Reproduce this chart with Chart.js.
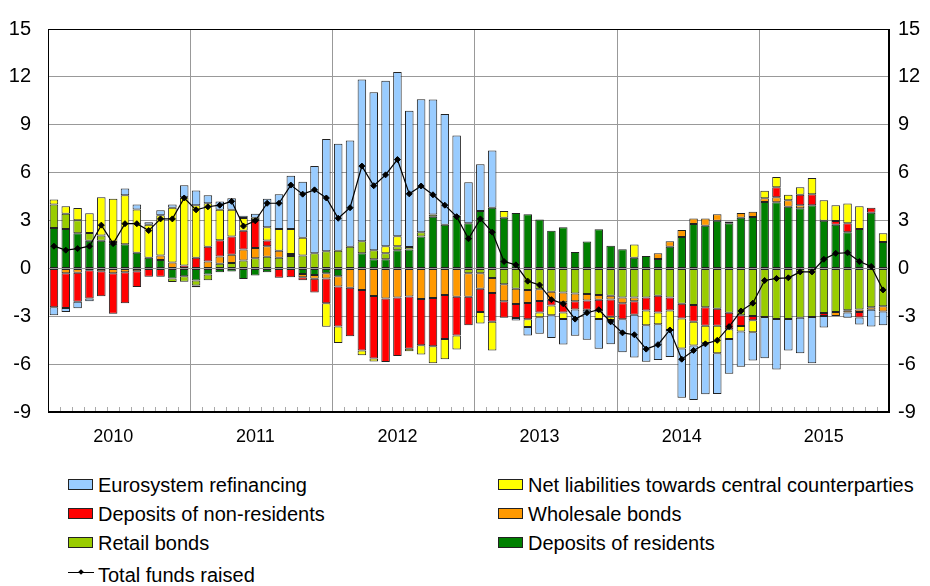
<!DOCTYPE html>
<html>
<head>
<meta charset="utf-8">
<script src="https://cdn.jsdelivr.net/npm/chart.js@4.4.0/dist/chart.umd.min.js"></script>
<style>
  body { margin: 0; background: #fff; font-family: "Liberation Sans", Arial, sans-serif; }
  #wrap { position: relative; width: 930px; height: 586px; }
  #chartBox { position: absolute; left: 0; top: 0; width: 930px; height: 460px; }
  .leg { position: absolute; font-size: 20px; color: #000; line-height: 22px; white-space: nowrap; }
  .leg .box { position: absolute; left: 0; top: 5px; width: 23px; height: 9px; border: 1px solid #222; }
  .leg .ln { position: absolute; left: 0; top: 8px; width: 26px; height: 0; border-top: 1.5px solid #000; }
  .leg .dia { position: absolute; left: 11px; top: 6px; width: 4px; height: 4px; background: #000; transform: rotate(45deg); }
  .leg .t { margin-left: 30px; }
</style>
</head>
<body>
<div id="wrap">
  <div id="chartBox"><canvas id="barChart"></canvas></div>
  <div id="legend"></div>
</div>
<script>
// Años y meses (ene 2010 - nov 2015)
const years = ['2010', '2011', '2012', '2013', '2014', '2015'];
const monthsInLastYear = 11;

// Series (variación mensual)
const depositsResidents = [
  2.53, 2.47, 2.2, 1.73, 1.73, 1.55, 1.51, 0.98, 0.67, 0.53, -0.63, -0.49,
  -0.76, -0.39, -0.24, -0.2, -0.67, -0.45, -0.24, 0, 0, -0.35, -0.41, -0.31,
  -0.49, 0, 0.94, 0.57, 0.57, 1.14, 1.18, 2.0, 3.24, 2.73, 3.29, 2.82,
  3.59, 3.8, 3.18, 3.47, 3.39, 3.06, 2.35, 2.57, 1.02, 1.69, 2.45, 1.41,
  1.2, 0.67, 0.78, 0.59, 1.35, 1.96, 2.78, 2.67, 2.98, 2.82, 3.18, 3.22,
  4.16, 4.14, 3.86, 3.76, 3.96, 2.98, 2.73, 2.27, 2.47, 3.49, 1.65
];
const retailBonds = [
  1.47, 0.96, 0.82, 0.49, 0.33, 0.1, 0, 0, 0, 0, -0.22, -0.35,
  -0.31, -0.35, 0.29, 0.33, 0.49, 0.63, 0.73, 0.67, 0.78, 0.8, 0.94, 1.08,
  1.1, 1.35, 0.76, 0.57, 0.37, 0.24, 0.16, 0.27, 0.14, 0, 0, -0.31,
  -0.31, -0.61, -1.0, -1.27, -1.35, -1.31, -1.47, -1.51, -1.57, -1.61, -1.67, -1.71,
  -1.82, -1.82, -1.82, -1.71, -1.82, -2.22, -2.29, -2.43, -2.53, -2.78, -2.94, -2.98,
  -3.04, -3.18, -3.18, -3.1, -3.04, -2.8, -2.73, -2.63, -2.57, -2.43, -2.37
];
const wholesaleBonds = [
  0, -0.31, -0.27, -0.12, -0.18, -0.31, -0.24, -0.18, 0, 0.27, 0.37, 0,
  -0.12, 0.43, 0.45, 0.53, 0.69, 0.65, 0.65, 0.43, 0.12, -0.2, -0.24, -0.33,
  -0.65, -1.22, -1.35, -1.73, -1.88, -1.82, -1.76, -1.92, -1.86, -1.67, -1.78, -1.47,
  -0.96, -0.94, -1.06, -0.96, -0.82, -0.73, -0.49, -0.61, -0.49, -0.41, -0.29, -0.24,
  -0.37, -0.24, 0, 0.35, 0.35, 0.45, 0.35, 0.45, 0.41, 0.12, 0.29, 0.33,
  0.24, 0.31, 0.41, 0.2, 0, 0, -0.25, -0.14, -0.16, -0.16, -0.33
];
const depositsNonResidents = [
  -2.43, -2.18, -1.82, -1.76, -1.57, -2.53, -1.94, -0.98, -0.53, -0.53, 0, 0.18,
  0.67, 0.92, 1.02, 1.14, 1.18, 1.75, 0.37, -0.59, -0.55, -0.2, -0.86, -1.55,
  -2.51, -3.04, -3.8, -3.92, -3.98, -3.67, -3.27, -2.9, -3.02, -2.76, -2.43, -1.78,
  -1.47, -1.8, -1.04, -0.88, -1.02, -0.73, -0.37, -0.65, -0.51, -0.57, -0.73, -1.08,
  -1.0, -0.84, -0.82, -1.06, -0.82, -0.92, -1.06, -1.16, -1.06, -1.04, -0.67, -0.27,
  0, 0.63, 0, 0.65, 0.69, -0.18, 0.24, 0.55, -0.35, 0.31, 0
];
const netCcp = [
  0.31, 0.47, 0.76, 1.24, 2.39, 2.71, 3.08, 2.71, 2.06, 2.53, 3.43, 4.27,
  3.29, 2.73, 1.92, 1.67, 0.8, 0.15, 0.82, 1.37, 1.57, 1.12, 0, -1.47,
  -1.02, 0, -0.29, -0.18, 0.45, 0.63, -0.16, -0.57, -1.06, -1.27, -0.88, 0,
  -0.71, -1.8, 0.41, 0, -0.49, -0.29, -0.61, -0.41, 0, 0, -0.49, -0.2,
  0, 0.82, -0.92, -0.73, -1.22, -1.88, -1.49, -1.1, -1.73, -0.61, -0.35, -0.76,
  0.47, 0.65, 0.35, 0.47, 1.02, 1.29, 0.98, 1.24, 1.43, 0, 0.55
];
const eurosystem = [
  -0.51, -0.24, -0.41, -0.18, 0, 0, 0.41, 0.31, 0.16, 0.31, 0.2, 0.76,
  0.92, 0.51, 0.51, 0.73, 0.14, 0.24, 1.8, 2.18, 3.33, 3.51, 5.47, 7.02,
  6.71, 6.67, 10.14, 9.9, 10.37, 10.29, 8.53, 8.33, 7.2, 6.94, 5.04, 2.57,
  2.94, 3.59, 0, -0.16, -0.53, -1.04, -1.43, -1.59, -1.65, -1.88, -1.86, -1.53,
  -2.06, -2.69, -2.29, -2.24, -1.69, -3.08, -3.41, -3.2, -2.55, -2.18, -2.2, -1.76,
  -2.59, -3.16, -1.96, -2.22, -2.9, -0.73, 0, -0.33, -0.43, -1.06, -0.86
];
const totalFunds = [
  1.39, 1.14, 1.24, 1.39, 2.71, 1.55, 2.8, 2.8, 2.37, 3.1, 3.1, 4.41,
  3.67, 3.86, 3.96, 4.2, 2.65, 2.98, 4.08, 4.08, 5.22, 4.65, 4.92, 4.41,
  3.14, 3.8, 6.41, 5.18, 5.86, 6.82, 4.67, 5.16, 4.61, 3.96, 3.24, 1.86,
  3.1, 2.27, 0.43, 0.22, -0.8, -1.04, -1.96, -2.22, -3.18, -2.78, -2.59, -3.35,
  -4.04, -4.16, -5.06, -4.78, -3.86, -5.69, -5.14, -4.73, -4.51, -3.65, -2.67, -2.18,
  -0.76, -0.63, -0.59, -0.22, -0.22, 0.57, 0.94, 0.98, 0.43, 0.12, -1.35
];
const yTicks = [-9, -6, -3, 0, 3, 6, 9, 12, 15];

// Etiquetas de meses
const labels = [];
years.forEach((y, k) => {
  const n = k === years.length - 1 ? monthsInLastYear : 12;
  for (let m = 1; m <= n; m++) labels.push(y + '-' + String(m).padStart(2, '0'));
});

// Orden de apilado (desde el cero hacia fuera)
const series = [
  { label: 'Deposits of residents', data: depositsResidents, color: '#008000' },
  { label: 'Retail bonds', data: retailBonds, color: '#99CC00' },
  { label: 'Wholesale bonds', data: wholesaleBonds, color: '#FF9900' },
  { label: 'Deposits of non-residents', data: depositsNonResidents, color: '#FF0000' },
  { label: 'Net liabilities towards central counterparties', data: netCcp, color: '#FFFF00' },
  { label: 'Eurosystem refinancing', data: eurosystem, color: '#99CCFF' }
];
// Orden de la leyenda (dos columnas)
const legendOrder = [
  'Eurosystem refinancing', 'Net liabilities towards central counterparties',
  'Deposits of non-residents', 'Wholesale bonds',
  'Retail bonds', 'Deposits of residents'
];

const family = '"Liberation Sans", Arial, sans-serif';

// Líneas de año, marcas de mes y borde superior
const decor = {
  id: 'decor',
  beforeDatasetsDraw(chart) {
    const { ctx, chartArea: a, scales: { x } } = chart;
    const step = x.getPixelForValue(1) - x.getPixelForValue(0);
    ctx.save();
    ctx.lineWidth = 1;
    for (let i = 1; i < labels.length; i++) {
      const px = Math.round(x.getPixelForValue(i) - step / 2) + 0.5;
      ctx.beginPath();
      if (i % 12 === 0) {
        ctx.strokeStyle = '#999';
        ctx.moveTo(px, a.top);
      } else {
        ctx.strokeStyle = '#aaa';
        ctx.moveTo(px, a.bottom - 5);
      }
      ctx.lineTo(px, a.bottom);
      ctx.stroke();
    }
    ctx.restore();
  },
  afterDraw(chart) {
    const { ctx, chartArea: a } = chart;
    ctx.save();
    ctx.strokeStyle = '#000';
    ctx.lineWidth = 1;
    ctx.strokeRect(Math.round(a.left) + 0.5, Math.round(a.top) + 0.5,
      Math.round(a.right - a.left) - 1, Math.round(a.bottom - a.top) - 1);
    ctx.restore();
  }
};

const bctx = document.getElementById('barChart').getContext('2d');
const datasets = [{
  type: 'line',
  label: 'Total funds raised',
  data: totalFunds,
  stack: 'total',
  order: 0,
  borderColor: '#000',
  borderWidth: 1.2,
  pointStyle: 'rectRot',
  pointRadius: 3,
  pointBackgroundColor: '#000',
  pointBorderColor: '#000',
  pointBorderWidth: 1,
  tension: 0
}];
series.forEach(s => datasets.push({
  type: 'bar',
  label: s.label,
  data: s.data.map(v => v === 0 ? null : v),
  stack: 'funds',
  order: 1,
  backgroundColor: s.color,
  borderColor: '#222',
  borderWidth: 1,
  borderSkipped: false,
  categoryPercentage: 1,
  barPercentage: 0.72
}));

const chart = new Chart(bctx, {
  data: { labels: labels, datasets: datasets },
  plugins: [decor],
  options: {
    responsive: true,
    maintainAspectRatio: false,
    animation: false,
    layout: { padding: { top: 20, left: 0, right: 0, bottom: 0 } },
    plugins: { legend: { display: false }, tooltip: { enabled: false } },
    scales: {
      x: {
        stacked: true,
        offset: true,
        grid: { display: false, drawTicks: false },
        border: { display: true, color: '#000' },
        ticks: {
          autoSkip: false,
          maxRotation: 0,
          padding: 14,
          color: '#000',
          font: { family: family, size: 18 },
          callback: (v, i) => i % 12 === 5 ? years[Math.floor(i / 12)] : ''
        },
        afterFit: s => { s.height = 48; }
      },
      y: {
        stacked: true,
        min: -9,
        max: 15,
        afterBuildTicks: s => { s.ticks = yTicks.map(v => ({ value: v })); },
        grid: { color: '#999', drawTicks: false },
        border: { display: true, color: '#000' },
        ticks: { color: '#000', font: { family: family, size: 20 }, padding: 17 },
        afterFit: s => { s.width = 48; }
      },
      y2: {
        position: 'right',
        min: -9,
        max: 15,
        afterBuildTicks: s => { s.ticks = yTicks.map(v => ({ value: v })); },
        grid: { display: false, drawTicks: false },
        border: { display: true, color: '#000' },
        ticks: { color: '#000', font: { family: family, size: 20 }, padding: 9 },
        afterFit: s => { s.width = 41; }
      }
    }
  }
});

// Leyenda
const legendPos = [[68, 474], [498, 474], [68, 503], [498, 503], [68, 532], [498, 532]];
const legendEl = document.getElementById('legend');
legendOrder.forEach((name, k) => {
  const s = series.find(d => d.label === name);
  const div = document.createElement('div');
  div.className = 'leg';
  div.style.left = legendPos[k][0] + 'px';
  div.style.top = legendPos[k][1] + 'px';
  div.innerHTML = '<span class="box" style="background:' + s.color + '"></span><span class="t">' + name + '</span>';
  legendEl.appendChild(div);
});
const tot = document.createElement('div');
tot.className = 'leg';
tot.style.left = '68px';
tot.style.top = '564px';
tot.innerHTML = '<span class="ln"></span><span class="dia"></span><span class="t">Total funds raised</span>';
legendEl.appendChild(tot);
</script>
</body>
</html>
